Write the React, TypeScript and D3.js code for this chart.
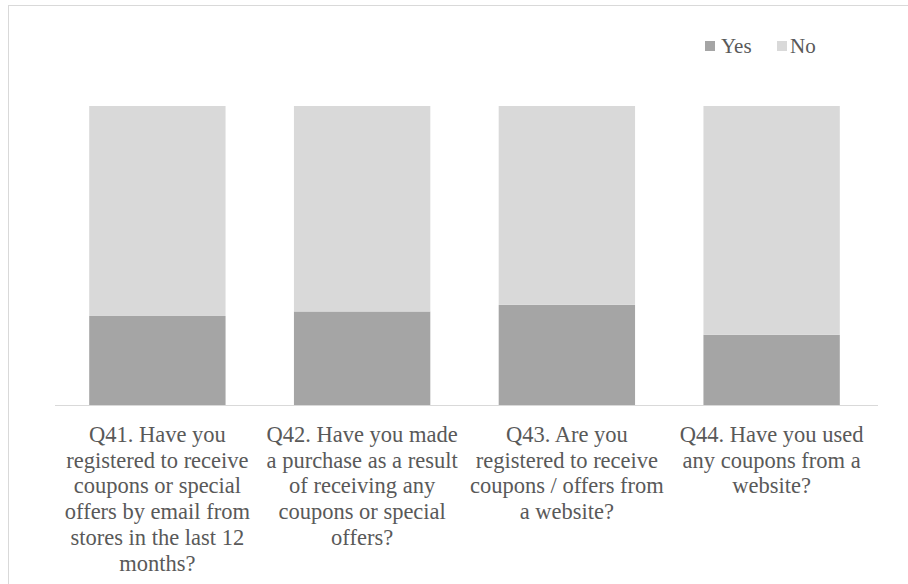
import React from "react";
import * as d3 from "d3";

const categories = ["Q41", "Q42", "Q43", "Q44"];
const labelLines = [
  ["Q41. Have you", "registered to receive", "coupons or special", "offers by email from", "stores in the last 12", "months?"],
  ["Q42. Have you made", "a purchase as a result", "of receiving any", "coupons or special", "offers?"],
  ["Q43. Are you", "registered to receive", "coupons / offers from", "a website?"],
  ["Q44. Have you used", "any coupons from a", "website?"],
];
const yesValues = [29.9, 31.4, 33.6, 23.6];
const noValues = [70.1, 68.6, 66.4, 76.4];
const seriesNames = ["Yes", "No"];
const seriesColors = ["#a5a5a5", "#d9d9d9"];

export default function App() {
  const W = 908, H = 584;
  const x = d3.scaleBand<string>().domain(categories).range([55, 874]).paddingInner(0.334).paddingOuter(0.167);
  const y = d3.scaleLinear().domain([0, 100]).range([405.5, 106]);
  const rows = categories.map((c, i) => ({ cat: c, Yes: yesValues[i], No: noValues[i] }));
  const stacked = d3.stack<any>().keys(seriesNames)(rows);
  const fontStyle = { fontFamily: '"Liberation Serif"' };
  const textColor = "#595959";

  return (
    <svg width={W} height={H} style={{ position: "absolute", left: 0, top: 0, background: "#fff" }}>
      <rect x={8.5} y={5.5} width={W + 20} height={H + 20} fill="#fff" stroke="#d9d9d9" strokeWidth={1} />
      {stacked.map((s, si) => (
        <g key={s.key} fill={seriesColors[si]}>
          {s.map((d, i) => (
            <rect key={i} x={x(categories[i])} y={y(d[1])} width={x.bandwidth()} height={y(d[0]) - y(d[1])} />
          ))}
        </g>
      ))}
      <line x1={55} x2={878} y1={405.5} y2={405.5} stroke="#d9d9d9" strokeWidth={1} />
      {categories.map((c, i) => (
        <text key={c} textAnchor="middle" fontSize={22.5} fill={textColor} style={fontStyle}>
          {labelLines[i].map((ln, j) => (
            <tspan key={j} x={(x(c) as number) + x.bandwidth() / 2} y={442 + j * 25.7}>{ln}</tspan>
          ))}
        </text>
      ))}
      <g fontSize={21} fill={textColor}>
        <rect x={705} y={41} width={10} height={10} fill={seriesColors[0]} />
        <text x={721} y={53} style={fontStyle}>{seriesNames[0]}</text>
        <rect x={777} y={41} width={10} height={10} fill={seriesColors[1]} />
        <text x={790} y={53} style={fontStyle}>{seriesNames[1]}</text>
      </g>
    </svg>
  );
}
